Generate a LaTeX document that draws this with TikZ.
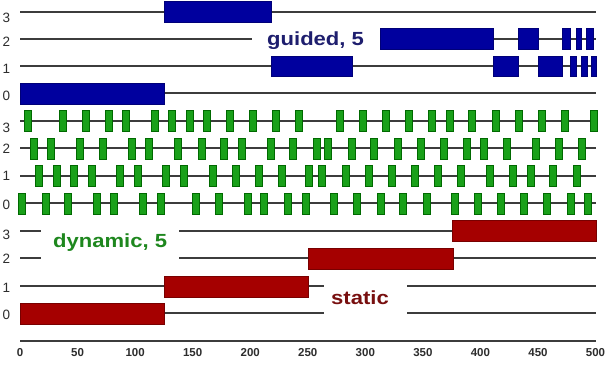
\documentclass[tikz,border=0pt]{standalone}
\usepackage{fontspec}
\setmainfont{Liberation Sans}
\definecolor{lineC}{RGB}{60,60,60}
\definecolor{labC}{RGB}{45,45,45}
\definecolor{blueC}{RGB}{0,0,158}
\definecolor{blueD}{RGB}{0,0,120}
\definecolor{greenC}{RGB}{25,160,25}
\definecolor{greenD}{RGB}{0,105,0}
\definecolor{redC}{RGB}{165,0,0}
\definecolor{redD}{RGB}{120,0,0}
\definecolor{gtxt}{RGB}{30,30,110}
\definecolor{dtxt}{RGB}{30,135,30}
\definecolor{stxt}{RGB}{120,15,15}
\begin{document}
\begin{tikzpicture}[x=1pt,y=-1pt,
  track/.style={draw=lineC, line width=1.8pt},
  gblk/.style={fill=blueC, draw=blueD, line width=0.4pt},
  dblk/.style={fill=greenC, draw=greenD, line width=0.7pt},
  sblk/.style={fill=redC, draw=redD, line width=0.4pt},
  rowlab/.style={font=\fontsize{13.5}{15}\selectfont, text=labC, inner sep=0pt},
  ticklab/.style={font=\bfseries\fontsize{11.5}{13}\selectfont, text=labC, inner sep=0pt},
  biglab/.style={font=\bfseries\fontsize{19}{22}\selectfont, inner sep=0pt, anchor=base west}]
\useasboundingbox (0,0) rectangle (612,364);
\fill[white] (0,0) rectangle (612,364);

% ---------- guided ----------
\draw[track] (20,11.7) -- (596,11.7);
\draw[track] (20,39) -- (252,39);
\draw[track] (380,39) -- (596,39);
\draw[track] (20,66) -- (596,66);
\draw[track] (20,93.3) -- (596,93.3);
\draw[gblk] (164,1.5) rectangle (271,21.7);
\foreach \a/\b in {380/493, 518/538, 562/570.5, 576/581.5, 586.5/593}
  \draw[gblk] (\a,28.5) rectangle (\b,49.3);
\foreach \a/\b in {271.5/352, 493/518, 538/562, 570/576, 581.5/587, 591/596}
  \draw[gblk] (\a,56.5) rectangle (\b,76.5);
\draw[gblk] (20,83.3) rectangle (164,104);
\node[biglab, text=gtxt] (gt) at (267,45.5) {\scalebox{1.16}[1]{guided, 5}};
\node[rowlab] (g3) at (6.3,18) {3};
\node[rowlab] (g2) at (6.3,42) {2};
\node[rowlab] (g1) at (6.3,69) {1};
\node[rowlab] (g0) at (6.3,95.5) {0};

% ---------- dynamic ----------
\foreach \y in {120.7,148.3,175.7,203.3} \draw[track] (20,\y) -- (596,\y);
\foreach \x in {28.3,62.7,86,109.3,126,155,172.3,190,206.7,230,253.3,276,299.3,340,362.7,386,409,432.3,450,472.3,495.7,519,541.7,565,594}
  \draw[dblk] (\x-3.5,110.3) rectangle (\x+3.5,131.3);
\foreach \x in {34,51,80,103.3,131.7,149.3,178.3,201.7,224.3,241.7,270.7,293.3,316.7,328.3,351.7,374.3,397.7,420.7,444,467.3,484,507.3,536,559.3,582.3}
  \draw[dblk] (\x-3.5,138) rectangle (\x+3.5,159);
\foreach \x in {39.3,56.7,74.3,91.7,120,137.7,166,184,212.7,235.7,259,282.3,308.5,322.3,345.7,369,391.7,415,438.3,460.7,490,512.7,530.7,553.3,576.7}
  \draw[dblk] (\x-3.5,165.3) rectangle (\x+3.5,186.3);
\foreach \x in {22.3,45.7,68.3,97.3,114.3,143.3,161,195.7,219,247.7,264.3,287.7,305.5,334,357.3,380.7,403.3,426.7,454.5,478.3,501,524.3,547.3,570.7,587.7}
  \draw[dblk] (\x-3.5,193) rectangle (\x+3.5,214);
\node[rowlab] (d3) at (6.3,128) {3};
\node[rowlab] (d2) at (6.3,148.5) {2};
\node[rowlab] (d1) at (6.3,175.5) {1};
\node[rowlab] (d0) at (6.3,204.5) {0};

% ---------- static ----------
\draw[track] (20,230.7) -- (41,230.7);
\draw[track] (179,230.7) -- (452,230.7);
\draw[track] (20,258.3) -- (41,258.3);
\draw[track] (179,258.3) -- (596,258.3);
\draw[track] (20,285.7) -- (324,285.7);
\draw[track] (407,285.7) -- (596,285.7);
\draw[track] (20,313.3) -- (324,313.3);
\draw[track] (407,313.3) -- (596,313.3);
\draw[sblk] (452,220.3) rectangle (596.5,241);
\draw[sblk] (308,247.8) rectangle (453,269);
\draw[sblk] (164,275.7) rectangle (308.3,296.7);
\draw[sblk] (20,302.7) rectangle (164,323.7);
\node[biglab, text=dtxt] (dt) at (53,247.3) {\scalebox{1.16}[1]{dynamic, 5}};
\node[biglab, text=stxt] (st) at (331,304.3) {\scalebox{1.16}[1]{static}};
\node[rowlab] (s3) at (6.3,234.5) {3};
\node[rowlab] (s2) at (6.3,258.5) {2};
\node[rowlab] (s1) at (6.3,288) {1};
\node[rowlab] (s0) at (6.3,314.5) {0};

% ---------- axis ----------
\draw[track] (20,340.7) -- (596,340.7);
\foreach \u in {0,50,...,500}
  \node[ticklab] (t\u) at (20+1.151*\u,352.5) {\u};
\end{tikzpicture}
\end{document}
